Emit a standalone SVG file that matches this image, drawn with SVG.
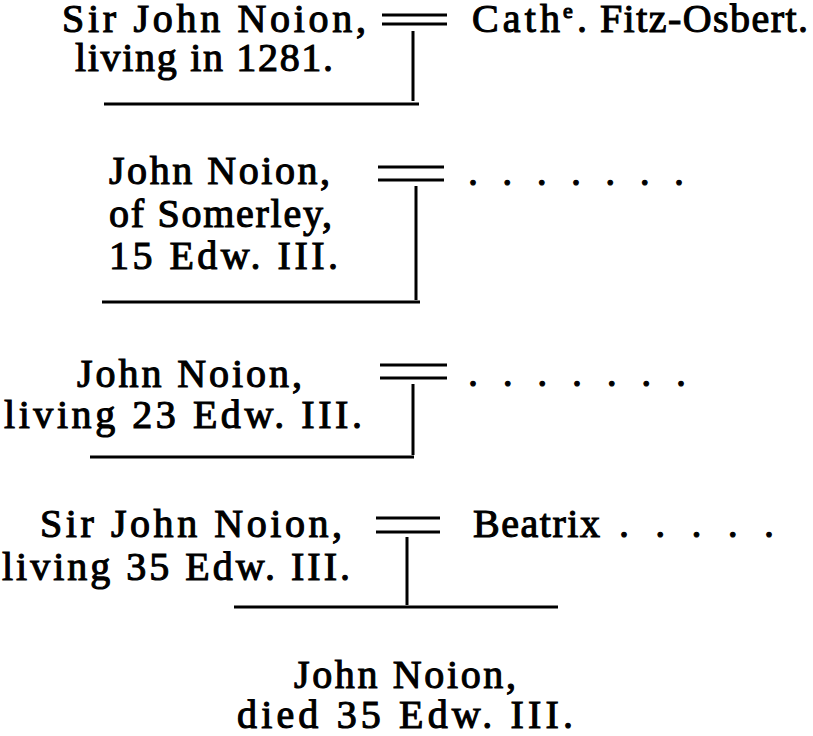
<svg xmlns="http://www.w3.org/2000/svg" width="813" height="736" viewBox="0 0 813 736">
<style>
.t { font-family: 'Liberation Serif', 'DejaVu Serif', 'Times New Roman', serif; font-size: 40px; fill: #000; stroke: #000; stroke-width: 1.1px; }
.sup { font-size: 22px; }
.mar { stroke: #000; stroke-width: 3; fill: none; }
.ln { stroke: #000; stroke-width: 3; fill: none; }
</style>
<rect width="813" height="736" fill="#fff"/>
<g class="t" font-family="Liberation Serif, DejaVu Serif, serif">
<g id="n1">
<text x="62" y="32" textLength="304" lengthAdjust="spacing">Sir John Noion,</text>
<text x="75" y="71" textLength="258" lengthAdjust="spacing">living in 1281.</text>
</g>
<g id="n1-wife">
<text x="472" y="32" textLength="88" lengthAdjust="spacing">Cath</text>
<text class="sup" x="563" y="18">e</text>
<text x="577" y="32" textLength="231" lengthAdjust="spacing">. Fitz-Osbert.</text>
</g>
<g id="n2">
<text x="109" y="184" textLength="221" lengthAdjust="spacing">John Noion,</text>
<text x="109" y="227" textLength="223" lengthAdjust="spacing">of Somerley,</text>
<text x="109" y="269" textLength="229" lengthAdjust="spacing">15 Edw. III.</text>
</g>
<g id="n2-wife">
<text x="468" y="185" textLength="216" lengthAdjust="spacing">. . . . . . .</text>
</g>
<g id="n3">
<text x="77" y="387" textLength="225" lengthAdjust="spacing">John Noion,</text>
<text x="4" y="428" textLength="358" lengthAdjust="spacing">living 23 Edw. III.</text>
</g>
<g id="n3-wife">
<text x="468" y="386" textLength="218" lengthAdjust="spacing">. . . . . . .</text>
</g>
<g id="n4">
<text x="40" y="537" textLength="302" lengthAdjust="spacing">Sir John Noion,</text>
<text x="2" y="580" textLength="348" lengthAdjust="spacing">living 35 Edw. III.</text>
</g>
<g id="n4-wife">
<text x="473" y="537" textLength="127" lengthAdjust="spacing">Beatrix</text>
<text x="619" y="537" textLength="155" lengthAdjust="spacing">. . . . .</text>
</g>
<g id="n5">
<text x="405" y="688" text-anchor="middle" textLength="222" lengthAdjust="spacing">John Noion,</text>
<text x="405" y="728" text-anchor="middle" textLength="336" lengthAdjust="spacing">died 35 Edw. III.</text>
</g>
</g>
<g id="connectors">
<path class="mar" d="M382 15H447M382 24H447"/>
<path class="ln" d="M413 31V101M104 104H419"/>
<path class="mar" d="M378 167H444M378 180H444"/>
<path class="ln" d="M416 186V300M102 302H420"/>
<path class="mar" d="M380 365H447M380 378H447"/>
<path class="ln" d="M413 384V455M90 457H414"/>
<path class="mar" d="M376 518H440M376 532H440"/>
<path class="ln" d="M407 537V605M234 607H558"/>
</g>
</svg>
